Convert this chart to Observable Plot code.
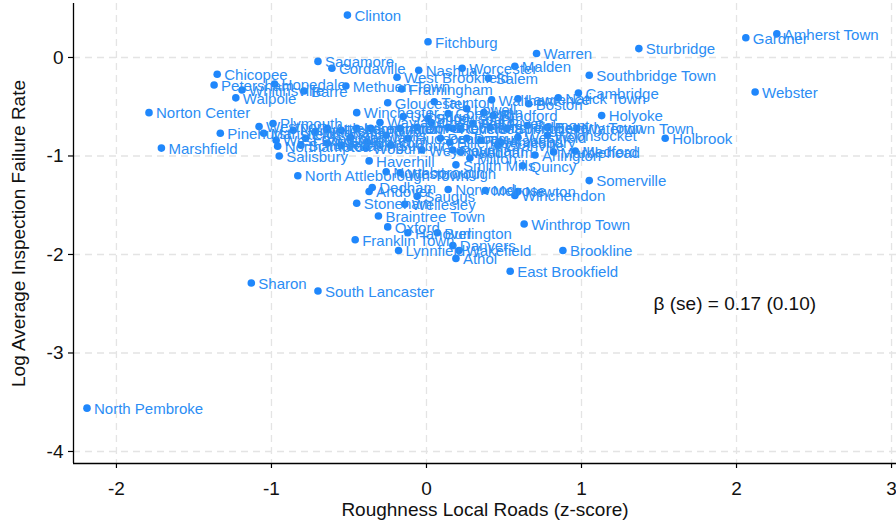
<!DOCTYPE html>
<html>
<head>
<meta charset="utf-8">
<script src="https://cdn.jsdelivr.net/npm/d3@7"></script>
<script src="https://cdn.jsdelivr.net/npm/@observablehq/plot@0.6"></script>
<style>
  html, body { margin: 0; padding: 0; background: #fff; }
  #chart svg { display: block; }
</style>
</head>
<body>
<div id="chart"></div>
<script>
const towns = [
  "Clinton","Fitchburg","Warren","Sturbridge","Gardner","Amherst Town","Webster","Southbridge Town",
  "Cambridge","Holyoke","Holbrook","Somerville","Winchendon","Newton","Melrose","Norwood",
  "Winthrop Town","Brookline","East Brookfield","Athol","Wakefield","Danvers","Lynnfield","Burlington",
  "Franklin Town","Oxford","Hanover","Braintree Town","Stoneham","Dedham","Andover","Saugus",
  "Wellesley","North Attleborough Town","Haverhill","Westborough","Northborough","Smith Mills","Quincy","Arlington",
  "Medford","Milton","Sharon","South Lancaster","North Pembroke","Sagamore","Cordaville","Nashua",
  "Worcester","Malden","West Brookfield","Salem","Framingham","Methuen Town","Chicopee","Petersham",
  "Hopedale","Whitinsville","Barre","Walpole","Norton Center","Gloucester","Winchester","Taunton",
  "Waltham","Lawrence","Boston","Natick Town","Pinehurst","Marshfield","Westport","Plymouth",
  "Mansfield","West Boylston","Northampton","Salisbury",
  "Uxbridge","Shrewsbury","Concord","Attleboro","Ashland","Leominster","Lexington","Acton",
  "Dover","Chelmsford","Everett","Reading","Canton","Hudson","Peabody","Revere",
  "Woburn","Weymouth","Raynham","Foxborough","Hingham","Norwell","Scituate","Medway",
  "Millis","Sudbury","Wayland","Lowell","Lynn","Bradford","Brockton","Chelsea",
  "Fall River","Pittsfield","Springfield","Belmont","Beverly Town","Watertown Town","Billerica","Dracut",
  "Tewksbury","Amesbury","Westfield","Woonsocket","Granville","Needham","Marblehead"
];
const roughness = [
  -0.51,0.01,0.71,1.37,2.06,2.26,2.12,1.05,
  0.98,1.13,1.54,1.05,0.57,0.59,0.38,0.14,
  0.63,0.88,0.54,0.19,0.21,0.17,-0.18,0.07,
  -0.46,-0.25,-0.12,-0.31,-0.45,-0.35,-0.37,-0.06,
  -0.14,-0.83,-0.37,-0.17,-0.26,0.19,0.62,0.70,
  0.96,0.28,-1.13,-0.70,-2.19,-0.70,-0.61,-0.05,
  0.23,0.57,-0.19,0.40,-0.16,-0.52,-1.35,-1.37,
  -0.98,-1.19,-0.79,-1.23,-1.79,-0.25,-0.45,0.05,
  0.42,0.59,0.66,0.85,-1.33,-1.71,-1.08,-0.99,
  -1.05,-0.97,-0.96,-0.95,
  -0.15,0.01,0.14,-0.64,-0.55,-0.45,-0.36,-0.17,
  -0.06,0.03,-0.64,-0.55,-0.38,-0.12,0.09,0.17,
  -0.39,-0.03,0.17,-0.78,-0.72,-0.86,-0.81,-0.49,
  -0.26,-0.23,-0.30,0.26,0.37,0.43,0.14,0.22,
  0.30,0.41,0.52,0.65,0.78,0.97,0.15,0.26,
  0.35,0.48,0.59,0.78,0.46,0.22,0.82
];
const failRate = [
  0.43,0.16,0.04,0.09,0.20,0.24,-0.35,-0.18,
  -0.36,-0.59,-0.82,-1.25,-1.40,-1.36,-1.35,-1.34,
  -1.69,-1.96,-2.17,-2.04,-1.96,-1.91,-1.96,-1.78,
  -1.85,-1.72,-1.78,-1.61,-1.48,-1.32,-1.36,-1.41,
  -1.49,-1.20,-1.05,-1.17,-1.16,-1.09,-1.10,-0.99,
  -0.95,-1.02,-2.29,-2.37,-3.56,-0.04,-0.11,-0.13,
  -0.11,-0.09,-0.20,-0.21,-0.32,-0.29,-0.17,-0.28,
  -0.27,-0.33,-0.34,-0.41,-0.56,-0.46,-0.56,-0.45,
  -0.43,-0.42,-0.47,-0.41,-0.77,-0.92,-0.70,-0.67,
  -0.77,-0.84,-0.90,-1.00,
  -0.60,-0.62,-0.57,-0.72,-0.74,-0.72,-0.72,-0.72,
  -0.71,-0.66,-0.87,-0.89,-0.86,-0.82,-0.82,-0.72,
  -0.92,-0.94,-0.94,-0.82,-0.76,-0.74,-0.89,-0.81,
  -0.79,-0.89,-0.66,-0.52,-0.56,-0.59,-0.71,-0.72,
  -0.67,-0.71,-0.72,-0.69,-0.71,-0.72,-0.86,-0.82,
  -0.84,-0.86,-0.81,-0.79,-0.89,-0.96,-0.96
];
const xTicks = [-2, -1, 0, 1, 2, 3];
const yTicks = [0, -1, -2, -3, -4];
const annotation = "β (se) = 0.17 (0.10)";
const xTitle = "Roughness Local Roads (z-score)";
const yTitle = "Log Average Inspection Failure Rate";

const data = towns.map((t, i) => ({town: t, x: roughness[i], y: failRate[i]}));

const xDomain = [-2.277, 3.032];
const yDomain = [-4.122, 0.548];
const blue = "#1f87fc";
const labelBlue = "#2b8df4";
const font = "Liberation Sans, Arial, sans-serif";

const chart = Plot.plot({
  width: 896,
  height: 525,
  marginLeft: 73,
  marginRight: 0,
  marginTop: 3,
  marginBottom: 62,
  style: {fontFamily: font, background: "#fff"},
  x: {domain: xDomain, axis: null},
  y: {domain: yDomain, axis: null},
  marks: [
    Plot.gridX(xTicks, {stroke: "#e4e4e4", strokeOpacity: 1, strokeWidth: 1.3, strokeDasharray: "7,5"}),
    Plot.gridY(yTicks, {stroke: "#e4e4e4", strokeOpacity: 1, strokeWidth: 1.3, strokeDasharray: "7,5"}),
    Plot.axisX(xTicks, {tickSize: 5, tickFormat: () => "", label: null, stroke: "#000", strokeWidth: 1.2}),
    Plot.axisY(yTicks, {tickSize: 5, tickFormat: () => "", label: null, stroke: "#000", strokeWidth: 1.2}),
    Plot.text(xTicks, {x: d => d, y: yDomain[0], dy: 25, text: d => String(d), fontSize: 19, fill: "#111"}),
    Plot.text(yTicks, {x: xDomain[0], y: d => d, dx: -10, textAnchor: "end", text: d => String(d), fontSize: 19, fill: "#111"}),
    Plot.ruleX([xDomain[0]], {stroke: "#000", strokeWidth: 1.3}),
    Plot.ruleY([yDomain[0]], {stroke: "#000", strokeWidth: 1.3}),
    Plot.dot(data, {x: "x", y: "y", r: 3.8, fill: blue, stroke: "none"}),
    Plot.text(data, {x: "x", y: "y", text: "town", textAnchor: "start", dx: 7, dy: 1, fontSize: 15, fill: labelBlue}),
    Plot.text([annotation], {x: [1.465], y: [-2.5], text: d => d, textAnchor: "start", fontSize: 19, fill: "#111"}),
    Plot.text([xTitle], {frameAnchor: "bottom", dy: 52, textAnchor: "middle", text: d => d, fontSize: 19, fill: "#111"}),
    Plot.text([yTitle], {frameAnchor: "left", dx: -55, rotate: -90, textAnchor: "middle", text: d => d, fontSize: 19, fill: "#111"})
  ]
});
document.getElementById("chart").appendChild(chart);
</script>
</body>
</html>
